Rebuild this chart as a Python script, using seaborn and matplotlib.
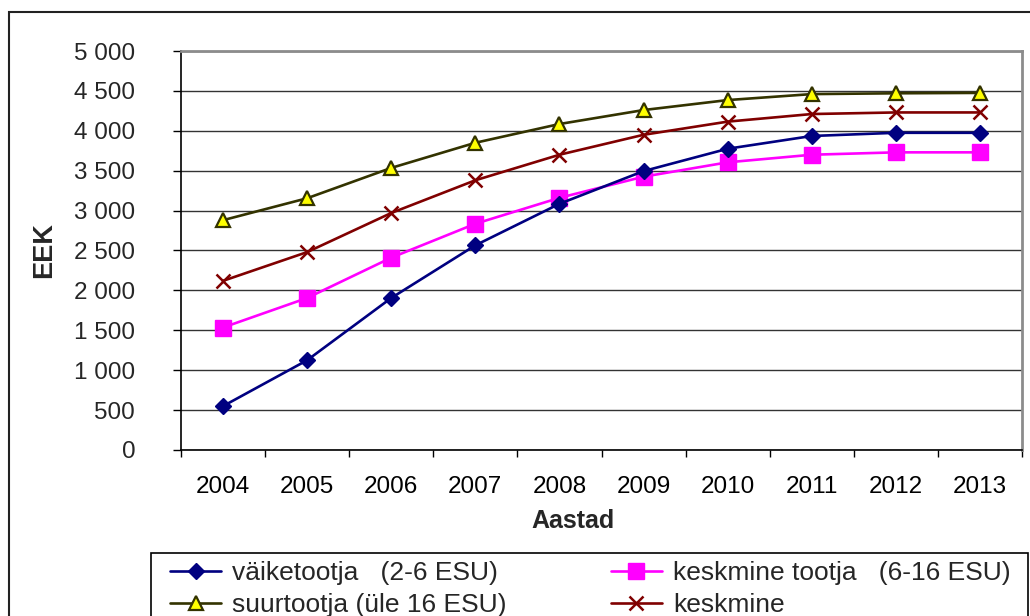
import numpy as np
import pandas as pd
import matplotlib
matplotlib.use("Agg")
import matplotlib.pyplot as plt
from matplotlib.ticker import FuncFormatter, FixedLocator
from matplotlib.patches import Rectangle
import seaborn as sns

# Yearly values (EEK) by producer size group
years = [2004, 2005, 2006, 2007, 2008, 2009, 2010, 2011, 2012, 2013]
vaiketootja = [550, 1125, 1905, 2565, 3085, 3495, 3775, 3935, 3975, 3975]
keskmine_tootja = [1535, 1905, 2410, 2835, 3160, 3425, 3605, 3700, 3730, 3730]
suurtootja = [2880, 3155, 3535, 3850, 4085, 4260, 4385, 4460, 4470, 4475]
keskmine = [2120, 2480, 2970, 3380, 3700, 3950, 4115, 4210, 4230, 4230]

labels = {
    "vaike": "väiketootja   (2-6 ESU)",
    "kesk_tootja": "keskmine tootja   (6-16 ESU)",
    "suur": "suurtootja (üle 16 ESU)",
    "kesk": "keskmine",
}
y_ticks = [0, 500, 1000, 1500, 2000, 2500, 3000, 3500, 4000, 4500, 5000]

sns.set_style("white")
plt.rcParams["font.family"] = ["Liberation Sans", "DejaVu Sans"]

W, H = 1030, 616
fig = plt.figure(figsize=(W / 100, H / 100), dpi=100)
ax = fig.add_axes([181 / W, 1 - 450 / H, (1022 - 181) / W, (450 - 51) / H])

series = [
    ("vaike", vaiketootja, dict(color="#000080", marker="D", markersize=8.5,
                                markerfacecolor="#000080", markeredgecolor="#000080",
                                markeredgewidth=1)),
    ("suur", suurtootja, dict(color="#333300", marker="^", markersize=9.5,
                              markerfacecolor="#FFFF00", markeredgecolor="#333300",
                              markeredgewidth=1.6)),
    ("kesk_tootja", keskmine_tootja, dict(color="#FF00FF", marker="s", markersize=11,
                                          markerfacecolor="#FF00FF", markeredgecolor="#FF00FF",
                                          markeredgewidth=1)),
    ("kesk", keskmine, dict(color="#800000", marker="x", markersize=10.5,
                            markeredgecolor="#800000", markeredgewidth=1.8)),
]

draw_order = ["kesk", "suur", "kesk_tootja", "vaike"]
handles = {}
for key in draw_order:
    vals, style = next((v, s) for k, v, s in series if k == key)
    df = pd.DataFrame({"Aasta": years, "EEK": vals})
    sns.lineplot(data=df, x="Aasta", y="EEK", ax=ax, linewidth=1.9,
                 legend=False, **style)
    handles[key] = ax.get_lines()[-1]

ax.set_xlim(years[0] - 0.5, years[-1] + 0.5)
ax.set_ylim(0, 5000)

# category labels at centres, tick marks at category boundaries
ax.set_xticks(years)
ax.xaxis.set_minor_locator(FixedLocator(np.arange(years[0] - 0.5, years[-1] + 1, 1.0)))
ax.tick_params(axis="x", which="major", length=0, pad=19, labelsize=17.5, colors="black")
ax.tick_params(axis="x", which="minor", length=5, width=1, color="black", direction="out",
               bottom=True)
ax.set_yticks(y_ticks)
ax.yaxis.set_major_formatter(FuncFormatter(lambda v, p: f"{int(v):,}".replace(",", " ")))
ax.tick_params(axis="y", which="major", length=6, width=1, color="black", direction="out",
               left=True, pad=27, labelsize=17.5)

ax.grid(axis="y", color="#333333", linewidth=1)
ax.grid(axis="x", visible=False)
ax.set_axisbelow(True)

for side in ["left", "bottom"]:
    ax.spines[side].set_color("black")
    ax.spines[side].set_linewidth(1.2)
for side in ["top", "right"]:
    ax.spines[side].set_color("#8c8c8c")
    ax.spines[side].set_linewidth(2)
    ax.spines[side].set_visible(True)

ax.set_xlabel("Aastad", fontsize=18, fontweight="bold")
ax.xaxis.set_label_coords((573 - 181) / 841, (450 - 521) / 399)
ax.xaxis.label.set_verticalalignment("center")
ax.set_ylabel("EEK", fontsize=19.5, fontweight="bold")
ax.yaxis.set_label_coords((44 - 181) / 841, 0.5)
ax.yaxis.label.set_verticalalignment("center")

# legend entries, boxed by a separate frame
order = ["vaike", "suur", "kesk_tootja", "kesk"]
leg = fig.legend([handles[k] for k in order], [labels[k] for k in order],
                 loc="upper left", bbox_to_anchor=(170 / W, 1 - 561 / H),
                 ncol=2, fontsize=19, frameon=False,
                 handlelength=1.95, handletextpad=0.4,
                 columnspacing=3.95, labelspacing=0.32, borderpad=0,
                 borderaxespad=0)
fig.patches.append(Rectangle((151 / W, -0.2), (1028 - 151) / W, 0.2 + 1 - 553 / H,
                             transform=fig.transFigure, fill=False,
                             edgecolor="black", linewidth=1.2, zorder=0))

# outer chart border
fig.patches.append(Rectangle((9 / W, -0.2), 1.2, 1.2 - 12 / H,
                             transform=fig.transFigure, fill=False,
                             edgecolor="#222222", linewidth=1.5, zorder=0))

fig.savefig("out.png", dpi=100)
